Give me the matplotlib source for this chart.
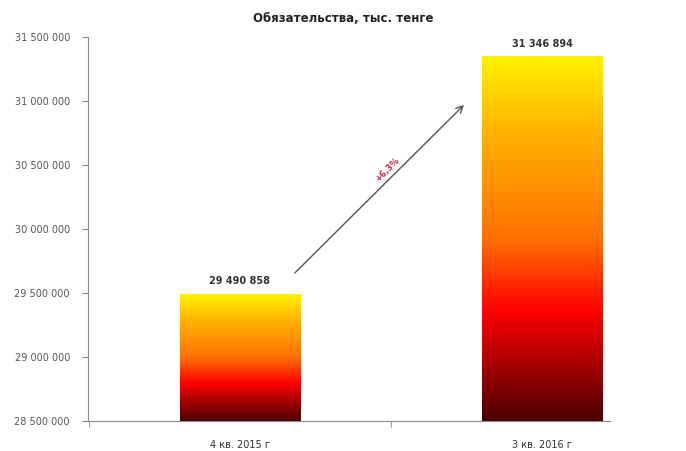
import numpy as np
import matplotlib
matplotlib.use("Agg")
import matplotlib.pyplot as plt
from matplotlib.colors import LinearSegmentedColormap

categories = ["4 кв. 2015 г", "3 кв. 2016 г"]
values = [29490858, 31346894]
title = "Обязательства, тыс. тенге"
change_label = "+6,3%"
y_min, y_max, y_step = 28500000, 31500000, 500000

def fmt(v):
    return f"{int(v):,}".replace(",", " ")

plt.rcParams['font.family'] = ['DejaVu Sans']

fig = plt.figure(figsize=(6.86, 4.51), dpi=100)
ax = fig.add_axes([88/686, 30/451, 522/686, 384/451])

cmap = LinearSegmentedColormap.from_list(
    "grad",
    [(0.0, "#4a0000"), (0.3, "#ff0000"), (0.5, "#ff7000"), (0.8, "#ffb400"), (1.0, "#fff200")])
grad = np.linspace(0, 1, 256).reshape(-1, 1)
bw = 0.4
for i, v in enumerate(values):
    ax.imshow(grad, extent=[i - bw/2, i + bw/2, y_min, v], origin="lower",
              aspect="auto", cmap=cmap, zorder=2)
    ax.text(i, v + 60000, fmt(v), ha="center", va="bottom", fontsize=7,
            color="#333333", fontweight="semibold")

ax.set_xlim(-0.503, 1.225)
ax.set_ylim(y_min, y_max)
ax.set_yticks(np.arange(y_min, y_max + 1, y_step))
ax.set_yticklabels([fmt(t) for t in np.arange(y_min, y_max + 1, y_step)],
                   fontsize=7, color="#555555")
ax.set_xticks(range(len(categories)))
ax.set_xticklabels(categories, fontsize=7, color="#333333")
ax.tick_params(axis="x", length=0, pad=14)
ax.set_xticks([-0.5, 0.5], minor=True)
ax.tick_params(axis="x", which="minor", length=4, color="#888888")
ax.tick_params(axis="y", length=4, color="#888888", pad=9)
for s in ["top", "right"]:
    ax.spines[s].set_visible(False)
for s in ["left", "bottom"]:
    ax.spines[s].set_color("#888888")
    ax.spines[s].set_linewidth(0.8)

# growth arrow
x0, y0 = 0.175, 29641000
x1, y1 = 0.748, 30984000
ax.annotate("", xy=(x1, y1), xytext=(x0, y0),
            arrowprops=dict(arrowstyle="->", color="#555555", lw=1.0,
                            mutation_scale=12), zorder=3)
ax.text((x0 + x1) / 2 + 0.025, (y0 + y1) / 2 + 148000, change_label, rotation=45,
        ha="center", va="center", fontsize=6, color="#c0304a", fontweight="bold")

fig.text(0.5, 0.958, title, ha="center", va="center", fontsize=8.5,
         fontweight="bold", color="#222222")

fig.savefig("out.png", dpi=100, facecolor="white")
